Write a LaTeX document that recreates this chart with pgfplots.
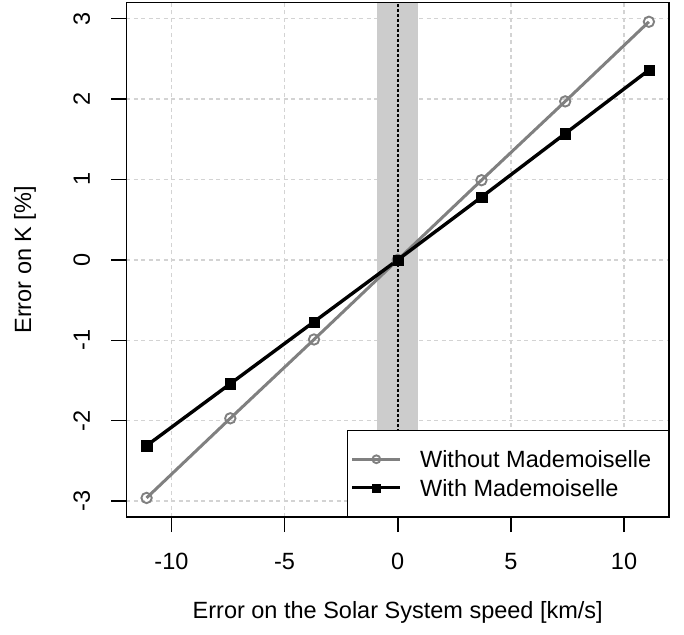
\documentclass[border=0pt]{standalone}
\usepackage{fontspec}
\setmainfont{Liberation Sans}
\usepackage{pgfplots}
\pgfplotsset{compat=1.18}
\definecolor{gridc}{RGB}{211,211,211}
\definecolor{bandc}{RGB}{204,204,204}
\definecolor{woc}{RGB}{128,128,128}
\begin{document}
\fontsize{23.5bp}{28bp}\selectfont
\begin{tikzpicture}
\path[use as bounding box] (-126.5bp,-118bp) rectangle (557.5bp,517bp);
\begin{axis}[
  at={(0,0)}, anchor=south west,
  scale only axis, width=542.5bp, height=514.3bp,
  xmin=-11.988, xmax=11.988, ymin=-3.197, ymax=3.197,
  axis line style={line width=1.5bp},
  xtick={-10,-5,0,5,10}, xticklabels={-10,-5,0,5,10},
  ytick={-3,-2,-1,0,1,2,3}, yticklabels={-3,-2,-1,0,1,2,3},
  xtick pos=bottom, ytick pos=left,
  tick align=outside, major tick length=15bp,
  every tick/.style={black, line width=1.5bp},
  grid=major,
  major grid style={gridc, line width=1.4bp, dash pattern=on 4bp off 3.5bp},
  xticklabel style={anchor=base, yshift=-37.3bp},
  yticklabel style={anchor=base, xshift=-21.7bp, rotate=90},
  xlabel={Error on the Solar System speed [km/s]},
  ylabel={Error on K [\%]},
  xlabel style={at={(axis description cs:0.5,-0.19697)}, anchor=base},
  ylabel style={at={(axis description cs:-0.17567,0.5)}, anchor=base, rotate=0},
  legend cell align=left,
  legend image code/.code={\draw[mark repeat=2,mark phase=2,#1,every mark/.append style={scale=0.75}] plot coordinates {(0bp,0bp) (24bp,0bp) (48bp,0bp)};},
  legend style={at={(1,0)}, anchor=south east, draw=black, line width=1.5bp, fill=white,
    inner xsep=3bp, inner ysep=20bp, row sep=11.2bp, column sep=18bp,
    nodes={inner sep=0bp, text height=17.2bp, text depth=0bp}},
]
\addplot[fill=bandc, draw=none, forget plot] coordinates {(-0.9,-3.197) (-0.9,3.197) (0.9,3.197) (0.9,-3.197)} -- cycle;
\addplot[black, line width=1.5bp, dash pattern=on 3bp off 2bp, forget plot] coordinates {(0,-3.197) (0,3.197)};
\addplot[woc, line width=3bp, mark=o, mark size=5.2bp, mark options={solid, line width=1.9bp}]
  coordinates {(-11.1,-2.96) (-7.4,-1.97) (-3.7,-0.99) (0,0) (3.7,0.99) (7.4,1.97) (11.1,2.96)};
\addlegendentry{Without Mademoiselle\rule{14bp}{0pt}}
\addplot[black, line width=3.4bp, mark=square*, mark size=5.2bp, mark options={solid, line width=0.1bp}]
  coordinates {(-11.1,-2.31) (-7.4,-1.54) (-3.7,-0.77) (0,0) (3.7,0.78) (7.4,1.57) (11.1,2.36)};
\addlegendentry{With Mademoiselle}
\end{axis}
\end{tikzpicture}
\end{document}
